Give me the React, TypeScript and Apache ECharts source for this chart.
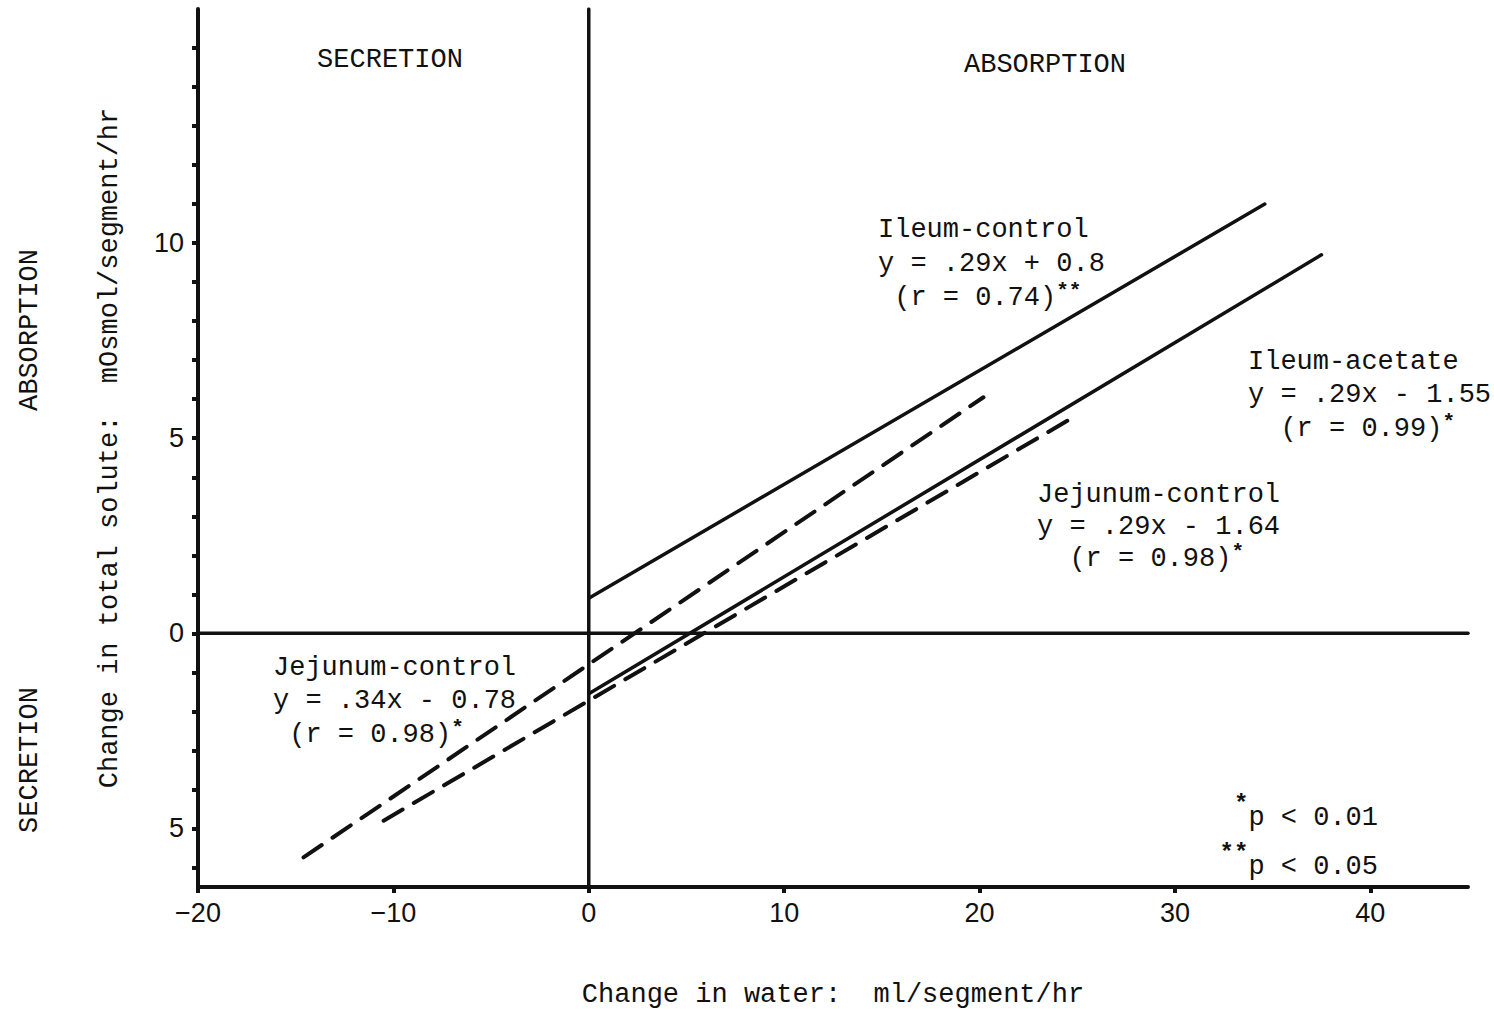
import React, { useEffect, useRef } from "react";
import * as echarts from "echarts";

// ---- data ----
const X_TICKS = [-20, -10, 0, 10, 20, 30, 40];
const Y_TICKS = [-6, -5, -4, -3, -2, -1, 0, 1, 2, 3, 4, 5, 6, 7, 8, 9, 10, 11, 12, 13, 14, 15];
const Y_LABELS = [-5, 0, 5, 10];

const ileumControl = [[0, 0.9], [34.6, 11.0]];
const ileumAcetate = [[0, -1.55], [37.5, 9.7]];
const jejunumControlA = [[-14.6, -5.74], [20.2, 6.05]]; // y = .34x - 0.78
const jejunumControlB = [[-10.5, -4.8], [24.5, 5.45]]; // y = .29x - 1.64
const zeroVertical = [[0, -6.5], [0, 16]];
const zeroHorizontal = [[-20, 0], [45, 0]];

const MONO = "'Liberation Mono', 'DejaVu Sans Mono', monospace";
const SANS = "'Liberation Sans', Arial, sans-serif";
const INK = "#111";

function txt(text: string, x: number, y: number, extra: any = {}) {
  return {
    type: "text",
    x,
    y,
    style: {
      text,
      fontSize: 27,
      fontFamily: MONO,
      fill: INK,
      verticalAlign: "middle",
      ...(extra.style || {}),
    },
    ...(extra.el || {}),
  };
}

// multi-line annotation block with raised asterisks ({s|*})
function block(
  text: string,
  x: number,
  yTop: number,
  lineHeight: number,
  raise: number,
  supSize: number,
  align = "left"
) {
  return {
    type: "text",
    x,
    y: yTop,
    style: {
      text,
      fontSize: 27,
      fontFamily: MONO,
      fill: INK,
      lineHeight,
      align,
      verticalAlign: "top",
      rich: {
        s: {
          fontSize: supSize,
          fontFamily: MONO,
          fontWeight: "bold",
          fill: INK,
          lineHeight: 10,
          verticalAlign: "middle",
          padding: [0, 0, raise, 0],
        },
      },
    },
  };
}

export default function App() {
  const ref = useRef<HTMLDivElement>(null);
  useEffect(() => {
    if (!ref.current) return;
    const chart = echarts.init(ref.current, null, { renderer: "svg" });
    const lineSeries = (data: number[][], dashed: boolean, width = 3.5) => ({
      type: "line",
      data,
      showSymbol: false,
      symbol: "none",
      silent: true,
      lineStyle: {
        color: INK,
        width,
        type: dashed ? [22, 13] : "solid",
        cap: "round",
      },
    });
    chart.setOption({
      animation: false,
      backgroundColor: "#fff",
      grid: { left: 198, right: 26, top: 9, bottom: 122 },
      xAxis: {
        type: "value",
        min: -20,
        max: 45,
        interval: 10,
        splitLine: { show: false },
        axisLine: { onZero: false, lineStyle: { color: INK, width: 4 } },
        axisTick: {
          show: true,
          length: 6,
          customValues: X_TICKS,
          lineStyle: { color: INK, width: 4 },
        },
        axisLabel: {
          customValues: X_TICKS,
          margin: 12,
          color: INK,
          fontSize: 27,
          fontFamily: SANS,
          formatter: (v: number) => (v < 0 ? "\u2212" + Math.abs(v) : String(v)),
        },
      },
      yAxis: {
        type: "value",
        min: -6.5,
        max: 16,
        splitLine: { show: false },
        axisLine: { onZero: false, lineStyle: { color: INK, width: 4 } },
        axisTick: {
          show: true,
          length: 6,
          customValues: Y_TICKS,
          lineStyle: { color: INK, width: 4 },
        },
        axisLabel: {
          customValues: Y_LABELS,
          margin: 14,
          color: INK,
          fontSize: 27,
          fontFamily: SANS,
          formatter: (v: number) => String(Math.abs(v)),
        },
      },
      series: [
        lineSeries(zeroVertical, false, 3.5),
        lineSeries(zeroHorizontal, false, 3.5),
        lineSeries(ileumControl, false, 3.5),
        lineSeries(ileumAcetate, false, 3.5),
        lineSeries(jejunumControlA, true, 4),
        lineSeries(jejunumControlB, true, 4),
      ],
      graphic: [
        txt("SECRETION", 390, 60, { style: { align: "center" } }),
        txt("ABSORPTION", 1045, 65, { style: { align: "center" } }),
        txt("ABSORPTION", 30, 330, { style: { align: "center" }, el: { rotation: Math.PI / 2 } }),
        txt("SECRETION", 30, 760, { style: { align: "center" }, el: { rotation: Math.PI / 2 } }),
        txt("Change in total solute:  mOsmol/segment/hr", 110, 448, {
          style: { align: "center" },
          el: { rotation: Math.PI / 2 },
        }),
        txt("Change in water:  ml/segment/hr", 833, 995, { style: { align: "center" } }),

        block("Ileum-control\ny = .29x + 0.8\n (r = 0.74){s|**}", 878, 213, 34, 13, 21),
        block("Ileum-acetate\ny = .29x - 1.55\n  (r = 0.99){s|*}", 1248, 345, 33.5, 13, 21),
        block("Jejunum-control\ny = .29x - 1.64\n  (r = 0.98){s|*}", 1037, 479, 32, 13, 21),
        block("Jejunum-control\ny = .34x - 0.78\n (r = 0.98){s|*}", 273, 651, 33.5, 13, 21),
        block("{s|*}p < 0.01\n{s|**}p < 0.05", 1378, 793, 49, 26, 24, "right"),
      ],
    });
    return () => chart.dispose();
  }, []);
  return (
    <div
      ref={ref}
      style={{ position: "fixed", left: 0, top: 0, width: 1494, height: 1009, background: "#fff" }}
    />
  );
}
